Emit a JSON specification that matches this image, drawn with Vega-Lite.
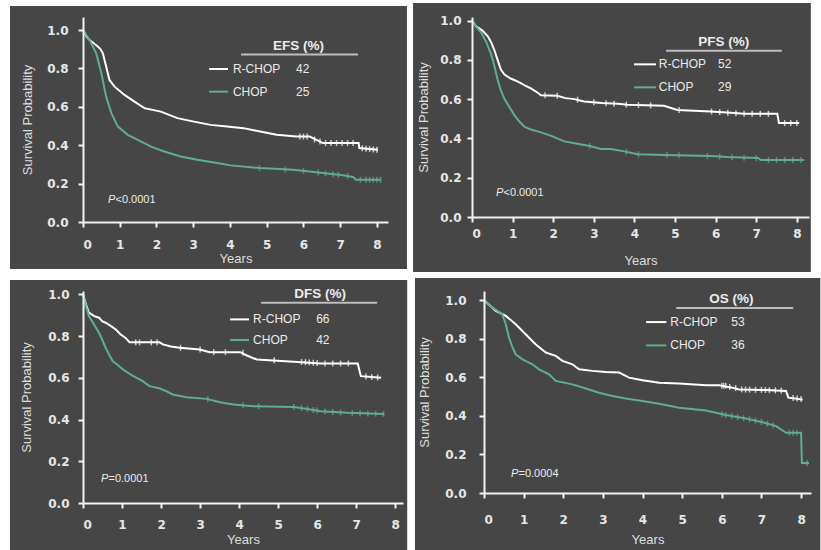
{
  "$schema": "https://vega.github.io/schema/vega-lite/v6.json",
  "background": "white",
  "padding": {"left": 9, "top": 3, "right": 0, "bottom": 0},
  "config": {
    "view": {"stroke": null},
    "axis": {"grid": false, "labelOverlap": false, "tickCount": 12, "domainColor": "#f2f2f2", "domainWidth": 2, "tickColor": "#f2f2f2", "tickWidth": 2, "tickSize": 5, "labelFont": "DejaVu Sans", "labelFontWeight": "bold", "labelFontSize": 12, "labelColor": "#e6e6e6", "titleFont": "Liberation Sans", "titleFontWeight": "normal", "titleFontSize": 13, "titleColor": "#dedede"},
    "text": {"font": "Liberation Sans", "fontSize": 12, "color": "#ebebeb", "align": "left", "baseline": "middle"},
    "rule": {"strokeWidth": 2},
    "tick": {"orient": "vertical", "size": 6, "thickness": 1.5}
  },
  "datasets": {
    "efs": [
      {"t":0,"s":1,"g":"R-CHOP"},{"t":0.1,"s":0.965,"g":"R-CHOP"},{"t":0.18,"s":0.948,"g":"R-CHOP"},{"t":0.3,"s":0.93,"g":"R-CHOP"},{"t":0.41,"s":0.913,"g":"R-CHOP"},{"t":0.48,"s":0.9,"g":"R-CHOP"},{"t":0.54,"s":0.879,"g":"R-CHOP"},{"t":0.63,"s":0.81,"g":"R-CHOP"},{"t":0.72,"s":0.74,"g":"R-CHOP"},{"t":0.86,"s":0.705,"g":"R-CHOP"},{"t":1.13,"s":0.662,"g":"R-CHOP"},{"t":1.4,"s":0.627,"g":"R-CHOP"},{"t":1.67,"s":0.593,"g":"R-CHOP"},{"t":2.12,"s":0.575,"g":"R-CHOP"},{"t":2.57,"s":0.541,"g":"R-CHOP"},{"t":3.02,"s":0.523,"g":"R-CHOP"},{"t":3.47,"s":0.506,"g":"R-CHOP"},{"t":3.92,"s":0.497,"g":"R-CHOP"},{"t":4.37,"s":0.489,"g":"R-CHOP"},{"t":4.82,"s":0.471,"g":"R-CHOP"},{"t":5.27,"s":0.454,"g":"R-CHOP"},{"t":5.81,"s":0.445,"g":"R-CHOP"},{"t":6.17,"s":0.445,"g":"R-CHOP"},{"t":6.53,"s":0.411,"g":"R-CHOP"},{"t":7.07,"s":0.411,"g":"R-CHOP"},{"t":7.5,"s":0.411,"g":"R-CHOP"},{"t":7.52,"s":0.385,"g":"R-CHOP"},{"t":8.02,"s":0.376,"g":"R-CHOP"},
      {"t":0,"s":1,"g":"CHOP"},{"t":0.18,"s":0.948,"g":"CHOP"},{"t":0.36,"s":0.879,"g":"CHOP"},{"t":0.5,"s":0.775,"g":"CHOP"},{"t":0.63,"s":0.653,"g":"CHOP"},{"t":0.77,"s":0.567,"g":"CHOP"},{"t":0.95,"s":0.497,"g":"CHOP"},{"t":1.22,"s":0.454,"g":"CHOP"},{"t":1.49,"s":0.428,"g":"CHOP"},{"t":1.85,"s":0.393,"g":"CHOP"},{"t":2.21,"s":0.367,"g":"CHOP"},{"t":2.66,"s":0.341,"g":"CHOP"},{"t":3.11,"s":0.324,"g":"CHOP"},{"t":3.65,"s":0.307,"g":"CHOP"},{"t":4.01,"s":0.295,"g":"CHOP"},{"t":4.82,"s":0.281,"g":"CHOP"},{"t":5.72,"s":0.272,"g":"CHOP"},{"t":6.17,"s":0.263,"g":"CHOP"},{"t":6.71,"s":0.251,"g":"CHOP"},{"t":7.07,"s":0.243,"g":"CHOP"},{"t":7.35,"s":0.235,"g":"CHOP"},{"t":7.43,"s":0.22,"g":"CHOP"},{"t":8.11,"s":0.22,"g":"CHOP"}
    ],
    "efs_c": [
      {"t":5.9,"s":0.445,"g":"R-CHOP"},{"t":6.0,"s":0.445,"g":"R-CHOP"},{"t":6.1,"s":0.445,"g":"R-CHOP"},{"t":6.3,"s":0.43,"g":"R-CHOP"},{"t":6.45,"s":0.42,"g":"R-CHOP"},{"t":6.6,"s":0.411,"g":"R-CHOP"},{"t":6.75,"s":0.411,"g":"R-CHOP"},{"t":6.9,"s":0.411,"g":"R-CHOP"},{"t":7.05,"s":0.411,"g":"R-CHOP"},{"t":7.2,"s":0.411,"g":"R-CHOP"},{"t":7.35,"s":0.411,"g":"R-CHOP"},{"t":7.6,"s":0.384,"g":"R-CHOP"},{"t":7.7,"s":0.382,"g":"R-CHOP"},{"t":7.8,"s":0.38,"g":"R-CHOP"},{"t":7.9,"s":0.378,"g":"R-CHOP"},{"t":8.0,"s":0.376,"g":"R-CHOP"},
      {"t":4.8,"s":0.281,"g":"CHOP"},{"t":5.5,"s":0.274,"g":"CHOP"},{"t":6.0,"s":0.267,"g":"CHOP"},{"t":6.4,"s":0.258,"g":"CHOP"},{"t":6.6,"s":0.253,"g":"CHOP"},{"t":6.8,"s":0.249,"g":"CHOP"},{"t":6.95,"s":0.246,"g":"CHOP"},{"t":7.2,"s":0.24,"g":"CHOP"},{"t":7.55,"s":0.22,"g":"CHOP"},{"t":7.7,"s":0.22,"g":"CHOP"},{"t":7.8,"s":0.22,"g":"CHOP"},{"t":7.9,"s":0.22,"g":"CHOP"},{"t":8.0,"s":0.22,"g":"CHOP"},{"t":8.1,"s":0.22,"g":"CHOP"}
    ],
    "pfs": [
      {"t":0,"s":1,"g":"R-CHOP"},{"t":0.1,"s":0.97,"g":"R-CHOP"},{"t":0.25,"s":0.95,"g":"R-CHOP"},{"t":0.39,"s":0.92,"g":"R-CHOP"},{"t":0.47,"s":0.89,"g":"R-CHOP"},{"t":0.55,"s":0.85,"g":"R-CHOP"},{"t":0.63,"s":0.8,"g":"R-CHOP"},{"t":0.71,"s":0.75,"g":"R-CHOP"},{"t":0.8,"s":0.725,"g":"R-CHOP"},{"t":0.95,"s":0.705,"g":"R-CHOP"},{"t":1.12,"s":0.69,"g":"R-CHOP"},{"t":1.3,"s":0.67,"g":"R-CHOP"},{"t":1.45,"s":0.655,"g":"R-CHOP"},{"t":1.6,"s":0.635,"g":"R-CHOP"},{"t":1.7,"s":0.62,"g":"R-CHOP"},{"t":2.1,"s":0.617,"g":"R-CHOP"},{"t":2.3,"s":0.605,"g":"R-CHOP"},{"t":2.52,"s":0.6,"g":"R-CHOP"},{"t":2.76,"s":0.588,"g":"R-CHOP"},{"t":3.2,"s":0.58,"g":"R-CHOP"},{"t":3.6,"s":0.576,"g":"R-CHOP"},{"t":3.83,"s":0.571,"g":"R-CHOP"},{"t":4.73,"s":0.566,"g":"R-CHOP"},{"t":4.9,"s":0.555,"g":"R-CHOP"},{"t":5.06,"s":0.545,"g":"R-CHOP"},{"t":5.88,"s":0.537,"g":"R-CHOP"},{"t":6.46,"s":0.529,"g":"R-CHOP"},{"t":6.7,"s":0.525,"g":"R-CHOP"},{"t":7.52,"s":0.525,"g":"R-CHOP"},{"t":7.56,"s":0.478,"g":"R-CHOP"},{"t":8.06,"s":0.478,"g":"R-CHOP"},
      {"t":0,"s":1,"g":"CHOP"},{"t":0.1,"s":0.97,"g":"CHOP"},{"t":0.22,"s":0.94,"g":"CHOP"},{"t":0.35,"s":0.89,"g":"CHOP"},{"t":0.47,"s":0.83,"g":"CHOP"},{"t":0.55,"s":0.77,"g":"CHOP"},{"t":0.63,"s":0.7,"g":"CHOP"},{"t":0.7,"s":0.65,"g":"CHOP"},{"t":0.8,"s":0.6,"g":"CHOP"},{"t":0.92,"s":0.56,"g":"CHOP"},{"t":1.04,"s":0.52,"g":"CHOP"},{"t":1.15,"s":0.49,"g":"CHOP"},{"t":1.29,"s":0.46,"g":"CHOP"},{"t":1.45,"s":0.445,"g":"CHOP"},{"t":1.62,"s":0.436,"g":"CHOP"},{"t":1.94,"s":0.414,"g":"CHOP"},{"t":2.27,"s":0.385,"g":"CHOP"},{"t":2.6,"s":0.373,"g":"CHOP"},{"t":2.93,"s":0.36,"g":"CHOP"},{"t":3.17,"s":0.346,"g":"CHOP"},{"t":3.42,"s":0.346,"g":"CHOP"},{"t":3.75,"s":0.334,"g":"CHOP"},{"t":4.08,"s":0.32,"g":"CHOP"},{"t":4.73,"s":0.315,"g":"CHOP"},{"t":5.88,"s":0.31,"g":"CHOP"},{"t":6.29,"s":0.305,"g":"CHOP"},{"t":7.05,"s":0.3,"g":"CHOP"},{"t":7.11,"s":0.29,"g":"CHOP"},{"t":8.18,"s":0.29,"g":"CHOP"}
    ],
    "pfs_c": [
      {"t":1.8,"s":0.62,"g":"R-CHOP"},{"t":2.1,"s":0.617,"g":"R-CHOP"},{"t":2.6,"s":0.597,"g":"R-CHOP"},{"t":3.0,"s":0.584,"g":"R-CHOP"},{"t":3.3,"s":0.579,"g":"R-CHOP"},{"t":3.5,"s":0.577,"g":"R-CHOP"},{"t":3.8,"s":0.572,"g":"R-CHOP"},{"t":4.1,"s":0.57,"g":"R-CHOP"},{"t":4.4,"s":0.568,"g":"R-CHOP"},{"t":5.1,"s":0.545,"g":"R-CHOP"},{"t":5.9,"s":0.537,"g":"R-CHOP"},{"t":6.1,"s":0.534,"g":"R-CHOP"},{"t":6.3,"s":0.531,"g":"R-CHOP"},{"t":6.5,"s":0.528,"g":"R-CHOP"},{"t":6.7,"s":0.525,"g":"R-CHOP"},{"t":6.9,"s":0.525,"g":"R-CHOP"},{"t":7.1,"s":0.525,"g":"R-CHOP"},{"t":7.3,"s":0.525,"g":"R-CHOP"},{"t":7.7,"s":0.478,"g":"R-CHOP"},{"t":7.85,"s":0.478,"g":"R-CHOP"},{"t":8.0,"s":0.478,"g":"R-CHOP"},
      {"t":2.9,"s":0.361,"g":"CHOP"},{"t":3.8,"s":0.332,"g":"CHOP"},{"t":4.1,"s":0.32,"g":"CHOP"},{"t":4.8,"s":0.315,"g":"CHOP"},{"t":5.1,"s":0.314,"g":"CHOP"},{"t":5.8,"s":0.31,"g":"CHOP"},{"t":6.1,"s":0.308,"g":"CHOP"},{"t":6.4,"s":0.304,"g":"CHOP"},{"t":6.7,"s":0.302,"g":"CHOP"},{"t":7.0,"s":0.3,"g":"CHOP"},{"t":7.3,"s":0.29,"g":"CHOP"},{"t":7.5,"s":0.29,"g":"CHOP"},{"t":7.7,"s":0.29,"g":"CHOP"},{"t":7.9,"s":0.29,"g":"CHOP"},{"t":8.1,"s":0.29,"g":"CHOP"}
    ],
    "dfs": [
      {"t":0,"s":1,"g":"R-CHOP"},{"t":0.08,"s":0.95,"g":"R-CHOP"},{"t":0.15,"s":0.912,"g":"R-CHOP"},{"t":0.3,"s":0.895,"g":"R-CHOP"},{"t":0.41,"s":0.888,"g":"R-CHOP"},{"t":0.5,"s":0.87,"g":"R-CHOP"},{"t":0.58,"s":0.864,"g":"R-CHOP"},{"t":0.7,"s":0.85,"g":"R-CHOP"},{"t":0.84,"s":0.832,"g":"R-CHOP"},{"t":0.95,"s":0.81,"g":"R-CHOP"},{"t":1.1,"s":0.79,"g":"R-CHOP"},{"t":1.19,"s":0.77,"g":"R-CHOP"},{"t":1.96,"s":0.77,"g":"R-CHOP"},{"t":2.05,"s":0.76,"g":"R-CHOP"},{"t":2.25,"s":0.75,"g":"R-CHOP"},{"t":2.48,"s":0.744,"g":"R-CHOP"},{"t":2.99,"s":0.736,"g":"R-CHOP"},{"t":3.25,"s":0.723,"g":"R-CHOP"},{"t":4.03,"s":0.723,"g":"R-CHOP"},{"t":4.2,"s":0.707,"g":"R-CHOP"},{"t":4.35,"s":0.695,"g":"R-CHOP"},{"t":4.46,"s":0.688,"g":"R-CHOP"},{"t":5.4,"s":0.677,"g":"R-CHOP"},{"t":6.09,"s":0.669,"g":"R-CHOP"},{"t":7.04,"s":0.669,"g":"R-CHOP"},{"t":7.12,"s":0.608,"g":"R-CHOP"},{"t":7.64,"s":0.6,"g":"R-CHOP"},
      {"t":0,"s":1,"g":"CHOP"},{"t":0.08,"s":0.94,"g":"CHOP"},{"t":0.15,"s":0.896,"g":"CHOP"},{"t":0.3,"s":0.85,"g":"CHOP"},{"t":0.41,"s":0.816,"g":"CHOP"},{"t":0.5,"s":0.78,"g":"CHOP"},{"t":0.58,"s":0.744,"g":"CHOP"},{"t":0.67,"s":0.71,"g":"CHOP"},{"t":0.76,"s":0.68,"g":"CHOP"},{"t":0.9,"s":0.66,"g":"CHOP"},{"t":1.02,"s":0.64,"g":"CHOP"},{"t":1.27,"s":0.61,"g":"CHOP"},{"t":1.53,"s":0.584,"g":"CHOP"},{"t":1.7,"s":0.56,"g":"CHOP"},{"t":1.95,"s":0.55,"g":"CHOP"},{"t":2.13,"s":0.536,"g":"CHOP"},{"t":2.3,"s":0.52,"g":"CHOP"},{"t":2.65,"s":0.507,"g":"CHOP"},{"t":3.17,"s":0.499,"g":"CHOP"},{"t":3.51,"s":0.483,"g":"CHOP"},{"t":3.85,"s":0.472,"g":"CHOP"},{"t":4.37,"s":0.464,"g":"CHOP"},{"t":5.4,"s":0.46,"g":"CHOP"},{"t":5.75,"s":0.45,"g":"CHOP"},{"t":6.09,"s":0.44,"g":"CHOP"},{"t":6.78,"s":0.432,"g":"CHOP"},{"t":7.72,"s":0.427,"g":"CHOP"}
    ],
    "dfs_c": [
      {"t":1.35,"s":0.77,"g":"R-CHOP"},{"t":1.45,"s":0.77,"g":"R-CHOP"},{"t":1.75,"s":0.77,"g":"R-CHOP"},{"t":1.9,"s":0.77,"g":"R-CHOP"},{"t":2.5,"s":0.744,"g":"R-CHOP"},{"t":3.0,"s":0.736,"g":"R-CHOP"},{"t":3.35,"s":0.723,"g":"R-CHOP"},{"t":3.65,"s":0.723,"g":"R-CHOP"},{"t":4.1,"s":0.72,"g":"R-CHOP"},{"t":4.9,"s":0.684,"g":"R-CHOP"},{"t":5.6,"s":0.676,"g":"R-CHOP"},{"t":5.7,"s":0.675,"g":"R-CHOP"},{"t":5.8,"s":0.674,"g":"R-CHOP"},{"t":5.9,"s":0.672,"g":"R-CHOP"},{"t":6.0,"s":0.671,"g":"R-CHOP"},{"t":6.2,"s":0.669,"g":"R-CHOP"},{"t":6.4,"s":0.669,"g":"R-CHOP"},{"t":6.6,"s":0.669,"g":"R-CHOP"},{"t":6.8,"s":0.669,"g":"R-CHOP"},{"t":7.25,"s":0.606,"g":"R-CHOP"},{"t":7.4,"s":0.604,"g":"R-CHOP"},{"t":7.55,"s":0.602,"g":"R-CHOP"},
      {"t":3.2,"s":0.498,"g":"CHOP"},{"t":4.1,"s":0.468,"g":"CHOP"},{"t":4.5,"s":0.464,"g":"CHOP"},{"t":5.4,"s":0.46,"g":"CHOP"},{"t":5.6,"s":0.455,"g":"CHOP"},{"t":5.75,"s":0.45,"g":"CHOP"},{"t":5.9,"s":0.446,"g":"CHOP"},{"t":6.0,"s":0.443,"g":"CHOP"},{"t":6.2,"s":0.438,"g":"CHOP"},{"t":6.4,"s":0.436,"g":"CHOP"},{"t":6.6,"s":0.434,"g":"CHOP"},{"t":6.9,"s":0.431,"g":"CHOP"},{"t":7.1,"s":0.43,"g":"CHOP"},{"t":7.3,"s":0.429,"g":"CHOP"},{"t":7.5,"s":0.428,"g":"CHOP"},{"t":7.7,"s":0.427,"g":"CHOP"}
    ],
    "os": [
      {"t":0,"s":1,"g":"R-CHOP"},{"t":0.29,"s":0.945,"g":"R-CHOP"},{"t":0.55,"s":0.918,"g":"R-CHOP"},{"t":0.8,"s":0.875,"g":"R-CHOP"},{"t":1.05,"s":0.823,"g":"R-CHOP"},{"t":1.3,"s":0.771,"g":"R-CHOP"},{"t":1.56,"s":0.728,"g":"R-CHOP"},{"t":1.81,"s":0.711,"g":"R-CHOP"},{"t":1.98,"s":0.685,"g":"R-CHOP"},{"t":2.23,"s":0.667,"g":"R-CHOP"},{"t":2.4,"s":0.641,"g":"R-CHOP"},{"t":2.74,"s":0.633,"g":"R-CHOP"},{"t":3.07,"s":0.627,"g":"R-CHOP"},{"t":3.41,"s":0.624,"g":"R-CHOP"},{"t":3.66,"s":0.598,"g":"R-CHOP"},{"t":4.0,"s":0.584,"g":"R-CHOP"},{"t":4.42,"s":0.572,"g":"R-CHOP"},{"t":4.92,"s":0.567,"g":"R-CHOP"},{"t":5.6,"s":0.558,"g":"R-CHOP"},{"t":5.93,"s":0.558,"g":"R-CHOP"},{"t":6.27,"s":0.546,"g":"R-CHOP"},{"t":6.44,"s":0.537,"g":"R-CHOP"},{"t":7.11,"s":0.534,"g":"R-CHOP"},{"t":7.62,"s":0.529,"g":"R-CHOP"},{"t":7.68,"s":0.494,"g":"R-CHOP"},{"t":8.04,"s":0.485,"g":"R-CHOP"},
      {"t":0,"s":1,"g":"CHOP"},{"t":0.21,"s":0.962,"g":"CHOP"},{"t":0.46,"s":0.927,"g":"CHOP"},{"t":0.55,"s":0.875,"g":"CHOP"},{"t":0.63,"s":0.806,"g":"CHOP"},{"t":0.72,"s":0.754,"g":"CHOP"},{"t":0.8,"s":0.719,"g":"CHOP"},{"t":0.97,"s":0.693,"g":"CHOP"},{"t":1.22,"s":0.667,"g":"CHOP"},{"t":1.39,"s":0.641,"g":"CHOP"},{"t":1.64,"s":0.615,"g":"CHOP"},{"t":1.81,"s":0.581,"g":"CHOP"},{"t":2.23,"s":0.563,"g":"CHOP"},{"t":2.57,"s":0.542,"g":"CHOP"},{"t":2.9,"s":0.52,"g":"CHOP"},{"t":3.24,"s":0.503,"g":"CHOP"},{"t":3.58,"s":0.49,"g":"CHOP"},{"t":3.91,"s":0.48,"g":"CHOP"},{"t":4.42,"s":0.463,"g":"CHOP"},{"t":4.92,"s":0.442,"g":"CHOP"},{"t":5.6,"s":0.428,"g":"CHOP"},{"t":6.1,"s":0.404,"g":"CHOP"},{"t":6.61,"s":0.386,"g":"CHOP"},{"t":7.03,"s":0.367,"g":"CHOP"},{"t":7.37,"s":0.347,"g":"CHOP"},{"t":7.62,"s":0.312,"g":"CHOP"},{"t":8.0,"s":0.312,"g":"CHOP"},{"t":8.02,"s":0.156,"g":"CHOP"},{"t":8.2,"s":0.156,"g":"CHOP"}
    ],
    "os_c": [
      {"t":6.0,"s":0.556,"g":"R-CHOP"},{"t":6.05,"s":0.556,"g":"R-CHOP"},{"t":6.1,"s":0.556,"g":"R-CHOP"},{"t":6.2,"s":0.55,"g":"R-CHOP"},{"t":6.35,"s":0.544,"g":"R-CHOP"},{"t":6.5,"s":0.537,"g":"R-CHOP"},{"t":6.6,"s":0.536,"g":"R-CHOP"},{"t":6.7,"s":0.536,"g":"R-CHOP"},{"t":6.85,"s":0.535,"g":"R-CHOP"},{"t":7.0,"s":0.535,"g":"R-CHOP"},{"t":7.1,"s":0.534,"g":"R-CHOP"},{"t":7.2,"s":0.533,"g":"R-CHOP"},{"t":7.35,"s":0.532,"g":"R-CHOP"},{"t":7.5,"s":0.531,"g":"R-CHOP"},{"t":7.8,"s":0.492,"g":"R-CHOP"},{"t":7.9,"s":0.49,"g":"R-CHOP"},{"t":8.0,"s":0.487,"g":"R-CHOP"},
      {"t":6.0,"s":0.408,"g":"CHOP"},{"t":6.1,"s":0.404,"g":"CHOP"},{"t":6.25,"s":0.399,"g":"CHOP"},{"t":6.4,"s":0.393,"g":"CHOP"},{"t":6.55,"s":0.388,"g":"CHOP"},{"t":6.7,"s":0.382,"g":"CHOP"},{"t":6.85,"s":0.375,"g":"CHOP"},{"t":7.0,"s":0.368,"g":"CHOP"},{"t":7.15,"s":0.36,"g":"CHOP"},{"t":7.3,"s":0.351,"g":"CHOP"},{"t":7.7,"s":0.312,"g":"CHOP"},{"t":7.8,"s":0.312,"g":"CHOP"},{"t":7.9,"s":0.312,"g":"CHOP"},{"t":8.15,"s":0.156,"g":"CHOP"}
    ]
  },
  "spacing": 5,
  "vconcat": [
    {
      "spacing": 6,
      "hconcat": [
        {
          "width": 305, "height": 205,
          "data": {"values": [{}]},
          "layer": [
            {"mark": {"type": "rect", "color": "#464646"}, "encoding": {"x": {"datum": -1.986, "type": "quantitative"}, "x2": {"datum": 8.816}, "y": {"datum": 1.125, "type": "quantitative"}, "y2": {"datum": -0.245}}},
            {"data": {"name": "efs"}, "mark": {"type": "line", "strokeWidth": 2}, "encoding": {
              "x": {"field": "t", "type": "quantitative", "scale": {"domain": [0, 8.3], "nice": false}, "axis": {"zindex": 2, "tickCount": 12, "values": [0,1,2,3,4,5,6,7,8], "format": "d", "title": "Years", "labelPadding": 12, "titlePadding": 2}},
              "y": {"field": "s", "type": "quantitative", "scale": {"domain": [0, 1.068], "nice": false}, "axis": {"zindex": 2, "tickCount": 12, "values": [0,0.2,0.4,0.6,0.8,1], "format": ".1f", "title": "Survival Probability", "labelPadding": 10, "titlePadding": 12}},
              "color": {"field": "g", "type": "nominal", "scale": {"domain": ["R-CHOP","CHOP"], "range": ["#ffffff","#5fae8e"]}, "legend": null}}},
            {"data": {"name": "efs_c"}, "mark": {"type": "tick"}, "encoding": {"x": {"field": "t", "type": "quantitative"}, "y": {"field": "s", "type": "quantitative"}, "color": {"field": "g", "type": "nominal", "legend": null}}},
            {"mark": {"type": "rule", "color": "#bdbdbd"}, "encoding": {"x": {"datum": 4.3, "type": "quantitative"}, "x2": {"datum": 7.483}, "y": {"datum": 0.873, "type": "quantitative"}}},
            {"mark": {"type": "rule", "color": "#ffffff"}, "encoding": {"x": {"datum": 3.43, "type": "quantitative"}, "x2": {"datum": 3.946}, "y": {"datum": 0.797, "type": "quantitative"}}},
            {"mark": {"type": "rule", "color": "#5fae8e"}, "encoding": {"x": {"datum": 3.43, "type": "quantitative"}, "x2": {"datum": 3.946}, "y": {"datum": 0.679, "type": "quantitative"}}},
            {"mark": {"type": "text", "text": "EFS (%)", "fontWeight": "bold", "fontSize": 13.5, "align": "center"}, "encoding": {"x": {"datum": 5.864, "type": "quantitative"}, "y": {"datum": 0.917, "type": "quantitative"}}},
            {"mark": {"type": "text", "text": "R-CHOP"}, "encoding": {"x": {"datum": 4.08, "type": "quantitative"}, "y": {"datum": 0.797, "type": "quantitative"}}},
            {"mark": {"type": "text", "text": "42"}, "encoding": {"x": {"datum": 5.796, "type": "quantitative"}, "y": {"datum": 0.797, "type": "quantitative"}}},
            {"mark": {"type": "text", "text": "CHOP"}, "encoding": {"x": {"datum": 4.08, "type": "quantitative"}, "y": {"datum": 0.679, "type": "quantitative"}}},
            {"mark": {"type": "text", "text": "25"}, "encoding": {"x": {"datum": 5.796, "type": "quantitative"}, "y": {"datum": 0.679, "type": "quantitative"}}},
            {"mark": {"type": "text", "text": "P", "fontStyle": "italic", "fontSize": 11}, "encoding": {"x": {"datum": 0.68, "type": "quantitative"}, "y": {"datum": 0.115, "type": "quantitative"}}},
            {"mark": {"type": "text", "text": "<0.0001", "fontSize": 11, "dx": 7.5}, "encoding": {"x": {"datum": 0.68, "type": "quantitative"}, "y": {"datum": 0.115, "type": "quantitative"}}}
          ]
        },
        {
          "width": 337, "height": 200,
          "data": {"values": [{}]},
          "layer": [
            {"mark": {"type": "rect", "color": "#464646"}, "encoding": {"x": {"datum": -1.452, "type": "quantitative"}, "x2": {"datum": 8.345}, "y": {"datum": 1.089, "type": "quantitative"}, "y2": {"datum": -0.28}}},
            {"data": {"name": "pfs"}, "mark": {"type": "line", "strokeWidth": 2}, "encoding": {
              "x": {"field": "t", "type": "quantitative", "scale": {"domain": [0, 8.3], "nice": false}, "axis": {"zindex": 2, "tickCount": 12, "values": [0,1,2,3,4,5,6,7,8], "format": "d", "title": "Years", "labelPadding": 6, "titlePadding": 15}},
              "y": {"field": "s", "type": "quantitative", "scale": {"domain": [0, 1.018], "nice": false}, "axis": {"zindex": 2, "tickCount": 12, "values": [0,0.2,0.4,0.6,0.8,1], "format": ".1f", "title": "Survival Probability", "labelPadding": 6, "titlePadding": 9}},
              "color": {"field": "g", "type": "nominal", "scale": {"domain": ["R-CHOP","CHOP"], "range": ["#ffffff","#5fae8e"]}, "legend": null}}},
            {"data": {"name": "pfs_c"}, "mark": {"type": "tick"}, "encoding": {"x": {"field": "t", "type": "quantitative"}, "y": {"field": "s", "type": "quantitative"}, "color": {"field": "g", "type": "nominal", "legend": null}}},
            {"mark": {"type": "rule", "color": "#bdbdbd"}, "encoding": {"x": {"datum": 4.78, "type": "quantitative"}, "x2": {"datum": 7.63}, "y": {"datum": 0.846, "type": "quantitative"}}},
            {"mark": {"type": "rule", "color": "#ffffff"}, "encoding": {"x": {"datum": 3.99, "type": "quantitative"}, "x2": {"datum": 4.53}, "y": {"datum": 0.777, "type": "quantitative"}}},
            {"mark": {"type": "rule", "color": "#5fae8e"}, "encoding": {"x": {"datum": 3.99, "type": "quantitative"}, "x2": {"datum": 4.53}, "y": {"datum": 0.66, "type": "quantitative"}}},
            {"mark": {"type": "text", "text": "PFS (%)", "fontWeight": "bold", "fontSize": 13.5, "align": "center"}, "encoding": {"x": {"datum": 6.2, "type": "quantitative"}, "y": {"datum": 0.891, "type": "quantitative"}}},
            {"mark": {"type": "text", "text": "R-CHOP"}, "encoding": {"x": {"datum": 4.6, "type": "quantitative"}, "y": {"datum": 0.777, "type": "quantitative"}}},
            {"mark": {"type": "text", "text": "52"}, "encoding": {"x": {"datum": 6.06, "type": "quantitative"}, "y": {"datum": 0.777, "type": "quantitative"}}},
            {"mark": {"type": "text", "text": "CHOP"}, "encoding": {"x": {"datum": 4.6, "type": "quantitative"}, "y": {"datum": 0.66, "type": "quantitative"}}},
            {"mark": {"type": "text", "text": "29"}, "encoding": {"x": {"datum": 6.06, "type": "quantitative"}, "y": {"datum": 0.66, "type": "quantitative"}}},
            {"mark": {"type": "text", "text": "P", "fontStyle": "italic", "fontSize": 11}, "encoding": {"x": {"datum": 0.59, "type": "quantitative"}, "y": {"datum": 0.122, "type": "quantitative"}}},
            {"mark": {"type": "text", "text": "<0.0001", "fontSize": 11, "dx": 7.5}, "encoding": {"x": {"datum": 0.59, "type": "quantitative"}, "y": {"datum": 0.122, "type": "quantitative"}}}
          ]
        }
      ]
    },
    {
      "spacing": 6,
      "hconcat": [
        {
          "width": 320, "height": 212,
          "data": {"values": [{}]},
          "layer": [
            {"mark": {"type": "rect", "color": "#464646"}, "encoding": {"x": {"datum": -1.872, "type": "quantitative"}, "x2": {"datum": 8.308}, "y": {"datum": 1.069, "type": "quantitative"}, "y2": {"datum": -0.3}}},
            {"data": {"name": "dfs"}, "mark": {"type": "line", "strokeWidth": 2}, "encoding": {
              "x": {"field": "t", "type": "quantitative", "scale": {"domain": [0, 8.2], "nice": false}, "axis": {"zindex": 2, "tickCount": 12, "values": [0,1,2,3,4,5,6,7,8], "format": "d", "title": "Years", "labelPadding": 11, "titlePadding": 3}},
              "y": {"field": "s", "type": "quantitative", "scale": {"domain": [0, 1.016], "nice": false}, "axis": {"zindex": 2, "tickCount": 12, "values": [0,0.2,0.4,0.6,0.8,1], "format": ".1f", "title": "Survival Probability", "labelPadding": 9, "titlePadding": 14}},
              "color": {"field": "g", "type": "nominal", "scale": {"domain": ["R-CHOP","CHOP"], "range": ["#ffffff","#5fae8e"]}, "legend": null}}},
            {"data": {"name": "dfs_c"}, "mark": {"type": "tick"}, "encoding": {"x": {"field": "t", "type": "quantitative"}, "y": {"field": "s", "type": "quantitative"}, "color": {"field": "g", "type": "nominal", "legend": null}}},
            {"mark": {"type": "rule", "color": "#bdbdbd"}, "encoding": {"x": {"datum": 4.564, "type": "quantitative"}, "x2": {"datum": 7.538}, "y": {"datum": 0.96, "type": "quantitative"}}},
            {"mark": {"type": "rule", "color": "#ffffff"}, "encoding": {"x": {"datum": 3.769, "type": "quantitative"}, "x2": {"datum": 4.256}, "y": {"datum": 0.88, "type": "quantitative"}}},
            {"mark": {"type": "rule", "color": "#5fae8e"}, "encoding": {"x": {"datum": 3.769, "type": "quantitative"}, "x2": {"datum": 4.256}, "y": {"datum": 0.781, "type": "quantitative"}}},
            {"mark": {"type": "text", "text": "DFS (%)", "fontWeight": "bold", "fontSize": 13.5, "align": "center"}, "encoding": {"x": {"datum": 6.077, "type": "quantitative"}, "y": {"datum": 1.0, "type": "quantitative"}}},
            {"mark": {"type": "text", "text": "R-CHOP"}, "encoding": {"x": {"datum": 4.359, "type": "quantitative"}, "y": {"datum": 0.88, "type": "quantitative"}}},
            {"mark": {"type": "text", "text": "66"}, "encoding": {"x": {"datum": 5.974, "type": "quantitative"}, "y": {"datum": 0.88, "type": "quantitative"}}},
            {"mark": {"type": "text", "text": "CHOP"}, "encoding": {"x": {"datum": 4.359, "type": "quantitative"}, "y": {"datum": 0.781, "type": "quantitative"}}},
            {"mark": {"type": "text", "text": "42"}, "encoding": {"x": {"datum": 5.974, "type": "quantitative"}, "y": {"datum": 0.781, "type": "quantitative"}}},
            {"mark": {"type": "text", "text": "P", "fontStyle": "italic", "fontSize": 11}, "encoding": {"x": {"datum": 0.46, "type": "quantitative"}, "y": {"datum": 0.116, "type": "quantitative"}}},
            {"mark": {"type": "text", "text": "=0.0001", "fontSize": 11, "dx": 7.5}, "encoding": {"x": {"datum": 0.46, "type": "quantitative"}, "y": {"datum": 0.116, "type": "quantitative"}}}
          ]
        },
        {
          "width": 327, "height": 202,
          "data": {"values": [{}]},
          "layer": [
            {"mark": {"type": "rect", "color": "#464646"}, "encoding": {"x": {"datum": -1.742, "type": "quantitative"}, "x2": {"datum": 8.485}, "y": {"datum": 1.114, "type": "quantitative"}, "y2": {"datum": -0.35}}},
            {"data": {"name": "os"}, "mark": {"type": "line", "strokeWidth": 2}, "encoding": {
              "x": {"field": "t", "type": "quantitative", "scale": {"domain": [0, 8.25], "nice": false}, "axis": {"zindex": 2, "tickCount": 12, "values": [0,1,2,3,4,5,6,7,8], "format": "d", "title": "Years", "labelPadding": 16, "titlePadding": 8}},
              "y": {"field": "s", "type": "quantitative", "scale": {"domain": [0, 1.047], "nice": false}, "axis": {"zindex": 2, "tickCount": 12, "values": [0,0.2,0.4,0.6,0.8,1], "format": ".1f", "title": "Survival Probability", "labelPadding": 13, "titlePadding": 13}},
              "color": {"field": "g", "type": "nominal", "scale": {"domain": ["R-CHOP","CHOP"], "range": ["#ffffff","#5fae8e"]}, "legend": null}}},
            {"data": {"name": "os_c"}, "mark": {"type": "tick"}, "encoding": {"x": {"field": "t", "type": "quantitative"}, "y": {"field": "s", "type": "quantitative"}, "color": {"field": "g", "type": "nominal", "legend": null}}},
            {"mark": {"type": "rule", "color": "#bdbdbd"}, "encoding": {"x": {"datum": 4.85, "type": "quantitative"}, "x2": {"datum": 7.8}, "y": {"datum": 0.959, "type": "quantitative"}}},
            {"mark": {"type": "rule", "color": "#ffffff"}, "encoding": {"x": {"datum": 4.09, "type": "quantitative"}, "x2": {"datum": 4.6}, "y": {"datum": 0.886, "type": "quantitative"}}},
            {"mark": {"type": "rule", "color": "#5fae8e"}, "encoding": {"x": {"datum": 4.09, "type": "quantitative"}, "x2": {"datum": 4.6}, "y": {"datum": 0.765, "type": "quantitative"}}},
            {"mark": {"type": "text", "text": "OS (%)", "fontWeight": "bold", "fontSize": 13.5, "align": "center"}, "encoding": {"x": {"datum": 6.24, "type": "quantitative"}, "y": {"datum": 1.004, "type": "quantitative"}}},
            {"mark": {"type": "text", "text": "R-CHOP"}, "encoding": {"x": {"datum": 4.7, "type": "quantitative"}, "y": {"datum": 0.886, "type": "quantitative"}}},
            {"mark": {"type": "text", "text": "53"}, "encoding": {"x": {"datum": 6.24, "type": "quantitative"}, "y": {"datum": 0.886, "type": "quantitative"}}},
            {"mark": {"type": "text", "text": "CHOP"}, "encoding": {"x": {"datum": 4.7, "type": "quantitative"}, "y": {"datum": 0.765, "type": "quantitative"}}},
            {"mark": {"type": "text", "text": "36"}, "encoding": {"x": {"datum": 6.24, "type": "quantitative"}, "y": {"datum": 0.765, "type": "quantitative"}}},
            {"mark": {"type": "text", "text": "P", "fontStyle": "italic", "fontSize": 11}, "encoding": {"x": {"datum": 0.68, "type": "quantitative"}, "y": {"datum": 0.097, "type": "quantitative"}}},
            {"mark": {"type": "text", "text": "=0.0004", "fontSize": 11, "dx": 7.5}, "encoding": {"x": {"datum": 0.68, "type": "quantitative"}, "y": {"datum": 0.097, "type": "quantitative"}}}
          ]
        }
      ]
    }
  ]
}
